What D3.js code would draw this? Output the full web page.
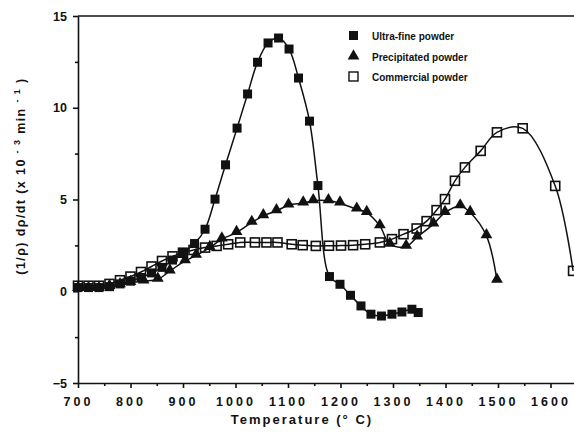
<!DOCTYPE html>
<html>
<head>
<meta charset="utf-8">
<script src="https://cdn.jsdelivr.net/npm/d3@7"></script>
<style>
  html, body { margin: 0; padding: 0; background: #fff; }
  svg { display: block; }
  text { font-family: "Liberation Sans", Arial, sans-serif; font-weight: bold; fill: #111; }
</style>
</head>
<body>
<svg id="chart" width="574" height="434"></svg>
<script>
// Densification rate vs temperature for three zirconia powders
const seriesNames = ["Ultra-fine powder", "Precipitated powder", "Commercial powder"];

const ultraT = [700, 720, 740, 760, 780, 800, 820, 840, 860, 880, 900, 922, 942, 961, 981, 1003, 1023, 1042, 1062, 1082, 1102, 1120, 1141, 1157, 1179, 1199, 1219, 1239, 1258, 1278, 1298, 1317, 1336, 1348];
const ultraV = [0.2, 0.2, 0.2, 0.25, 0.4, 0.55, 0.75, 1.0, 1.3, 1.7, 2.1, 2.6, 3.38, 5.02, 6.89, 8.89, 10.75, 12.48, 13.53, 13.8, 13.2, 11.62, 9.27, 5.76, 0.8, 0.38, -0.22, -0.8, -1.25, -1.35, -1.25, -1.13, -0.98, -1.16];

const precipT = [700, 720, 740, 760, 780, 800, 825, 852, 875, 904, 925, 951, 974, 1002, 1031, 1053, 1078, 1101, 1129, 1148, 1177, 1199, 1231, 1250, 1275, 1294, 1325, 1346, 1377, 1399, 1428, 1447, 1478, 1498];
const precipV = [0.15, 0.15, 0.15, 0.25, 0.35, 0.47, 0.55, 0.65, 1.1, 1.65, 1.95, 2.38, 2.84, 3.2, 3.75, 4.11, 4.38, 4.69, 4.8, 4.93, 4.93, 4.8, 4.47, 4.29, 3.56, 2.56, 2.44, 2.95, 3.66, 4.29, 4.65, 4.29, 3.02, 0.6];

const commT = [700, 720, 740, 760, 780, 800, 820, 840, 860, 880, 900, 920, 942, 964, 986, 1009, 1037, 1059, 1080, 1107, 1128, 1153, 1178, 1201, 1224, 1247, 1275, 1298, 1320, 1345, 1364, 1383, 1399, 1418, 1437, 1467, 1498, 1547, 1609, 1643];
const commV = [0.3, 0.3, 0.3, 0.4, 0.6, 0.8, 1.05, 1.35, 1.65, 1.9, 2.1, 2.25, 2.38, 2.47, 2.56, 2.66, 2.66, 2.66, 2.66, 2.56, 2.51, 2.47, 2.48, 2.49, 2.51, 2.56, 2.66, 2.84, 3.11, 3.42, 3.82, 4.42, 5.02, 6.02, 6.75, 7.65, 8.66, 8.88, 5.74, 1.11];

const xTicks = [700, 800, 900, 1000, 1100, 1200, 1300, 1400, 1500, 1600];
const xMinor = d3.range(750, 1650, 100);
const yTicks = [-5, 0, 5, 10, 15];
const yMinor = [-2.5, 2.5, 7.5, 12.5];

const svg = d3.select("#chart");
const x = d3.scaleLinear().domain([700, 1650]).range([78, 576.75]);
const y = d3.scaleLinear().domain([-5, 15]).range([383, 16]);

// frame: top edge
svg.append("line")
  .attr("x1", x(700)).attr("x2", 574)
  .attr("y1", y(15)).attr("y2", y(15))
  .attr("stroke", "#111").attr("stroke-width", 1.6);

// bottom axis
const xAxis = svg.append("g").attr("transform", `translate(0,${y(-5)})`)
  .call(d3.axisBottom(x).tickValues(xTicks).tickSize(5).tickSizeOuter(0).tickFormat(d3.format("d")));
svg.append("g").attr("transform", `translate(0,${y(-5)})`)
  .call(d3.axisBottom(x).tickValues(xMinor).tickSize(3).tickSizeOuter(0).tickFormat(""))
  .select(".domain").remove();
xAxis.selectAll("text")
  .attr("dy", "1.2em")
  .style("font-size", "12.5px").style("letter-spacing", "3px")
  .style("font-family", "Liberation Sans, Arial, sans-serif").style("font-weight", "bold")
  .attr("fill", "#111");

// left axis
const yAxis = svg.append("g").attr("transform", `translate(${x(700)},0)`)
  .call(d3.axisLeft(y).tickValues(yTicks).tickSize(5).tickSizeOuter(0).tickFormat(d3.format("d")));
svg.append("g").attr("transform", `translate(${x(700)},0)`)
  .call(d3.axisLeft(y).tickValues(yMinor).tickSize(3).tickSizeOuter(0).tickFormat(""))
  .select(".domain").remove();
yAxis.selectAll("text")
  .attr("dx", "-3px")
  .style("font-size", "12.5px")
  .style("font-family", "Liberation Sans, Arial, sans-serif").style("font-weight", "bold")
  .attr("fill", "#111");

svg.selectAll(".domain, .tick line").attr("stroke", "#111").attr("stroke-width", 1.6);

// axis titles
svg.append("text")
  .attr("x", 302).attr("y", 424)
  .attr("text-anchor", "middle")
  .style("font-size", "13px").style("letter-spacing", "2px")
  .text("Temperature  (° C)");

const yt = svg.append("text")
  .attr("transform", "translate(25,176) rotate(-90)")
  .attr("text-anchor", "middle")
  .style("font-size", "12.5px").style("letter-spacing", "1.4px");
yt.append("tspan").text("(1/ρ) dρ/dt  (x 10 ");
yt.append("tspan").attr("baseline-shift", "super").style("font-size", "9px").text("- 3");
yt.append("tspan").text(" min ");
yt.append("tspan").attr("baseline-shift", "super").style("font-size", "9px").text("- 1");
yt.append("tspan").text("  )");

// series lines and markers
const line = d3.line().x(d => x(d[0])).y(d => y(d[1])).curve(d3.curveCatmullRom.alpha(0.5));
const ultra = ultraT.map((t, i) => [t, ultraV[i]]);
const precip = precipT.map((t, i) => [t, precipV[i]]);
const comm = commT.map((t, i) => [t, commV[i]]);

[comm, precip, ultra].forEach(data => {
  svg.append("path").datum(data).attr("d", line)
    .attr("fill", "none").attr("stroke", "#111").attr("stroke-width", 1.5);
});

const sq = 9;
svg.append("g").selectAll("rect").data(comm).join("rect")
  .attr("x", d => x(d[0]) - sq / 2).attr("y", d => y(d[1]) - sq / 2)
  .attr("width", sq).attr("height", sq)
  .attr("fill", "none").attr("stroke", "#111").attr("stroke-width", 1.6);

const tri = d3.symbol().type(d3.symbolTriangle).size(60);
svg.append("g").selectAll("path").data(precip).join("path")
  .attr("transform", d => `translate(${x(d[0])},${y(d[1]) - 1})`)
  .attr("d", tri).attr("fill", "#111");

svg.append("g").selectAll("rect").data(ultra).join("rect")
  .attr("x", d => x(d[0]) - sq / 2).attr("y", d => y(d[1]) - sq / 2)
  .attr("width", sq).attr("height", sq)
  .attr("fill", "#111");

// legend
const legendY = [36, 57, 77];
const lg = svg.append("g");
lg.append("rect").attr("x", 349).attr("y", legendY[0] - 5).attr("width", 9).attr("height", 9).attr("fill", "#111");
lg.append("path").attr("transform", `translate(353.5,${legendY[1] - 1})`).attr("d", tri).attr("fill", "#111");
lg.append("rect").attr("x", 349).attr("y", legendY[2] - 5).attr("width", 9).attr("height", 9)
  .attr("fill", "none").attr("stroke", "#111").attr("stroke-width", 1.4);
seriesNames.forEach((name, i) => {
  lg.append("text").attr("x", 372).attr("y", legendY[i] + 4)
    .style("font-size", "10px").text(name);
});
</script>
</body>
</html>
